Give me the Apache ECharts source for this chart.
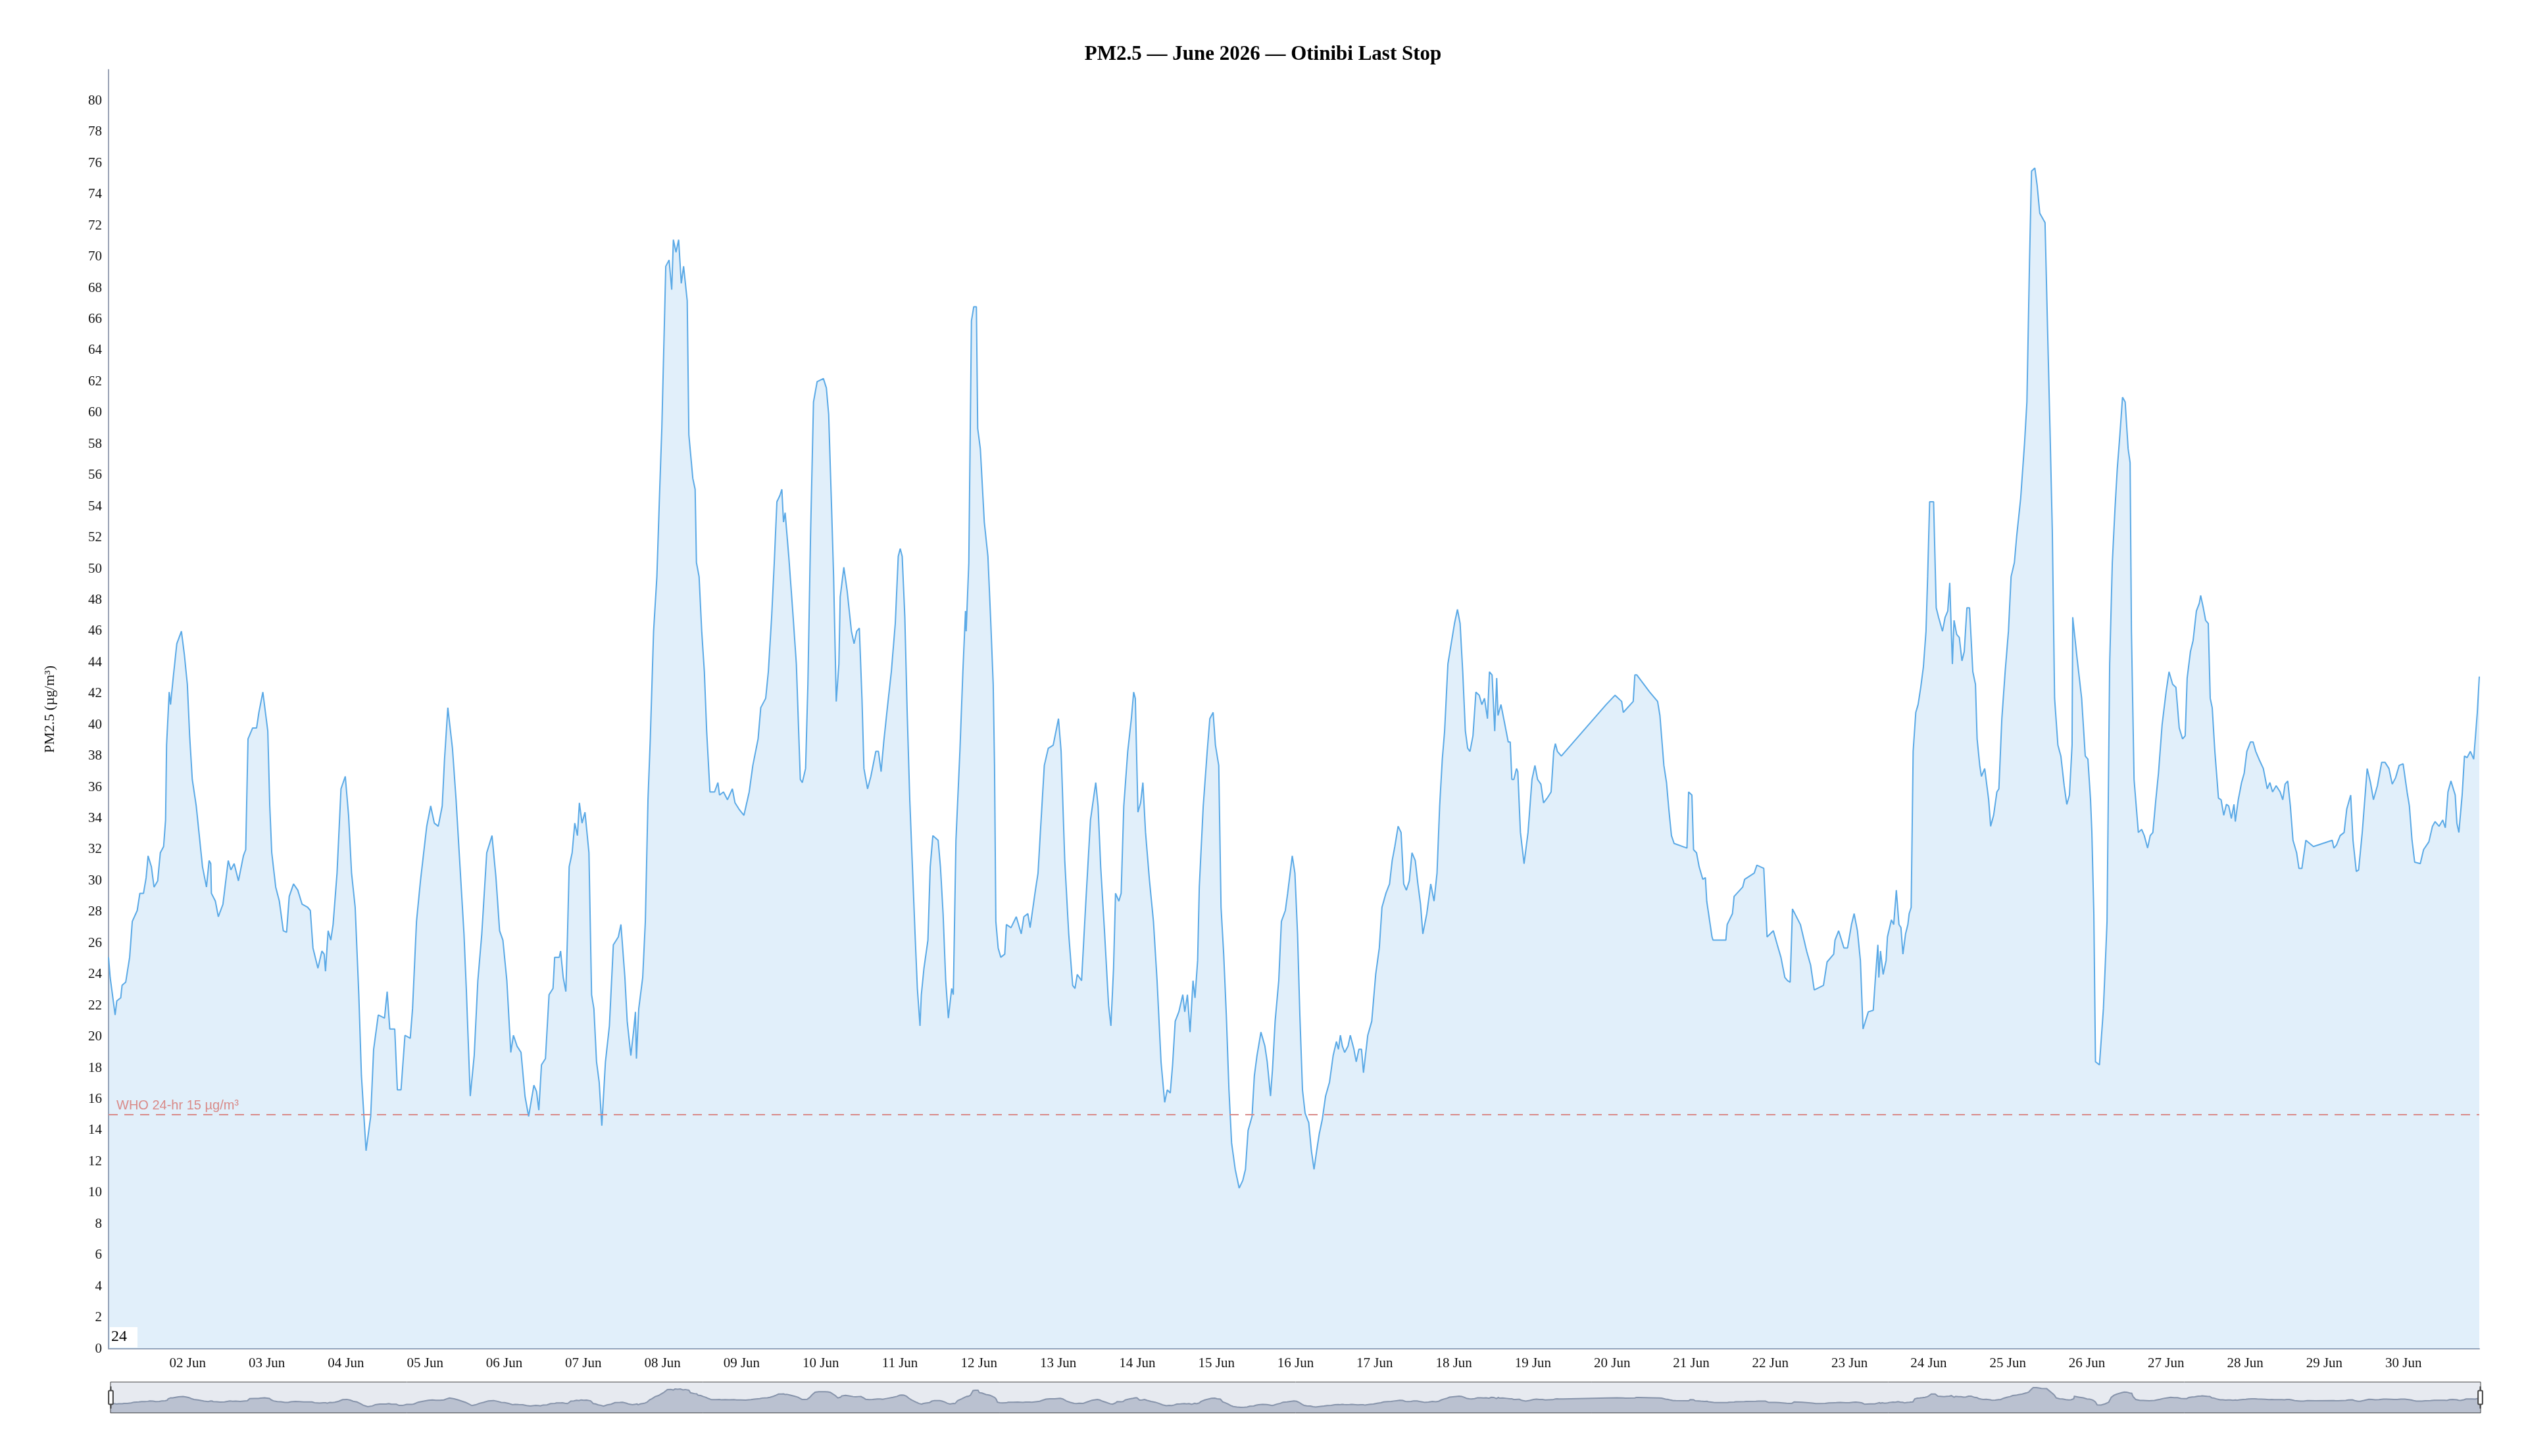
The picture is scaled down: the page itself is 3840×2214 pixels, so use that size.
<!DOCTYPE html>
<html>
<head>
<meta charset="utf-8">
<title>PM2.5 — June 2026 — Otinibi Last Stop</title>
<script src="https://cdn.jsdelivr.net/npm/echarts@6/dist/echarts.min.js"></script>
<style>
  html, body { margin: 0; padding: 0; background: #fff; }
  #chart { width: 3840px; height: 2214px; }
</style>
</head>
<body>
<div id="chart"></div>
<script>
// hourly readings, June 2026 (hour offset from 01 Jun 00:00, µg/m³)
var chartTitle = 'PM2.5 — June 2026 — Otinibi Last Stop';
var yAxisName = 'PM2.5 (µg/m³)';
var whoLimit = 15;
var whoLabel = 'WHO 24-hr 15 µg/m³';
var monthNames = ['Jan', 'Feb', 'Mar', 'Apr', 'May', 'Jun', 'Jul', 'Aug', 'Sep', 'Oct', 'Nov', 'Dec'];

var week1 = [
  [0,25.1],[0.5,23.8],[2,21.4],[2.5,22.3],[3.7,22.5],[4.1,23.3],[5.2,23.5],[6.4,25.1],[7.2,27.4],[8.7,28.1],
  [9.5,29.2],[10.6,29.2],[11.4,30.2],[12,31.6],[13,30.9],[13.8,29.6],[14.9,30.0],[15.7,31.8],[16.7,32.2],[17.3,33.9],
  [17.6,38.7],[18.4,42.1],[18.8,41.3],[19.6,43.0],[20.7,45.2],[22.1,46.0],[23,44.5],[23.9,42.6],[24.6,39.3],[25.4,36.5],
  [26.6,34.8],[28.5,30.9],[29.7,29.6],[30.5,31.3],[31,31.1],[31.2,29.2],[32.4,28.7],[33.3,27.7],[34.7,28.5],[36.3,31.3],
  [37.1,30.7],[38.1,31.1],[39.4,30.0],[40.9,31.6],[41.6,32.0],[42.3,39.1],[43.7,39.8],[44.9,39.8],[45.6,40.8],[46.8,42.1],
  [48.3,39.6],[48.9,34.8],[49.5,31.8],[50.7,29.6],[51.8,28.7],[53,26.8],[54,26.7],[54.8,29.0],[56.1,29.8],[57.4,29.4],
  [58.7,28.5],[60.4,28.3],[61.2,28.1],[62,25.7],[63.5,24.4],[64.7,25.5],[65.4,25.3],[65.8,24.2],[66.6,26.8],[67.4,26.2],
  [68.1,27.2],[69.3,30.5],[70.5,35.9],[71.8,36.7],[72.8,34.2],[73.7,30.5],[74.8,28.3],[75.9,22.7],[76.7,17.5],[78.1,12.7],
  [79.5,14.9],[80.4,19.2],[81.8,21.4],[83.7,21.2],[84.5,22.9],[85.3,20.5],[86.8,20.5],[87.6,16.6],[88.7,16.6],[89.9,20.1],
  [91.5,19.9],[92.2,21.8],[93.4,27.4],[94.6,30.0],[96.5,33.5],[97.7,34.8],[98.8,33.7],[100,33.5],[101.2,34.8],[101.9,37.8],
  [102.9,41.1],[104.3,38.5],[105.4,35.2],[106.6,30.9],[107.8,26.6],[108.5,23.1],[109.7,16.2],[110.9,18.8],[112,23.6],[113.2,26.6],
  [114.7,31.8],[116.3,32.9],[117.5,30.2],[118.6,26.8],[119.6,26.2],[120.8,23.6],[122,19.0],[122.8,20.1],[123.9,19.4],[125.1,19.0],
  [126.3,16.2],[127.4,14.9],[129,16.9],[129.8,16.5],[130.5,15.3],[131.3,18.2],[132.5,18.6],[133.6,22.7],[134.8,23.1],[135.3,25.1],
  [136.7,25.1],[137.1,25.5],[137.9,23.8],[138.7,22.9],[139.2,26.6],[139.7,30.9],[140.6,31.8],[141.4,33.7],[142.2,32.9],[142.8,35.0],
  [143.6,33.7],[144.5,34.4],[145.7,31.8],[146.5,22.7],[147.2,21.8],[148,18.4],[148.8,17.1],[149.6,14.3],[150.7,18.4],[151.9,20.7],
  [153.1,25.9],[154.6,26.4],[155.4,27.2],[156.6,23.8],[157.3,21.0],[158.4,18.8],[159.3,20.5],[159.8,21.6],[160.1,18.6],[160.8,21.8],
  [162,23.8],[162.8,27.4],[163.6,35.2],[164.3,39.1],[165.3,46.0],[166.3,49.5],[167.1,54.7]
];

var week2 = [
  [167.8,59.0],[169,69.4],[170,69.8],[170.8,67.9],[171.3,71.1],[172.1,70.3],[172.9,71.1],[173.7,68.3],[174.4,69.4],[175.5,67.2],
  [176,58.6],[177.2,55.8],[177.9,55.1],[178.3,50.4],[179.1,49.5],[179.9,46.0],[180.7,43.4],[181.4,39.6],[182.4,35.7],[183.8,35.7],
  [184.8,36.3],[185.3,35.5],[186.5,35.7],[187.7,35.2],[189.2,35.9],[190,35.0],[191.2,34.6],[192.7,34.2],[194.3,35.7],[195.4,37.4],
  [197,39.1],[197.8,41.1],[199.3,41.7],[200.1,43.4],[201.1,46.9],[201.9,50.4],[202.7,54.3],[203.6,54.7],[204.2,55.1],[204.7,53.0],
  [205.2,53.6],[206.3,50.8],[207.5,47.3],[208.6,43.9],[209.8,36.5],[210.4,36.3],[211.4,37.2],[212.1,42.6],[212.9,52.1],[213.8,60.7],
  [214.9,62.0],[216.8,62.2],[217.7,61.6],[218.4,59.9],[219.3,53.8],[219.9,49.5],[220.7,41.5],[221.5,43.9],[221.9,48.2],[223,50.1],
  [224,48.6],[225.3,46.0],[226.1,45.2],[226.9,46.0],[227.7,46.2],[228.5,41.7],[229.1,37.2],[230.2,35.9],[231.2,36.7],[232.7,38.3],
  [233.5,38.3],[234.3,37.0],[235.1,38.9],[236.2,41.1],[237.4,43.4],[238.6,46.5],[239.5,50.8],[240.1,51.3],[240.7,50.8],[241.5,46.9],
  [242.2,40.9],[243,35.2],[243.8,30.9],[244.6,26.6],[245.3,23.1],[246.1,20.7],[246.5,22.7],[247.3,24.4],[248.5,26.2],[249.2,30.9],
  [250,32.9],[251.6,32.6],[252.3,30.9],[253.1,27.9],[253.9,23.6],[254.7,21.2],[255.7,23.1],[256.2,22.7],[257,32.6],[258.2,38.3],
  [259.1,43.4],[259.9,47.3],[260.1,46.0],[260.9,50.4],[261.7,65.9],[262.4,66.8],[263.2,66.8],[263.6,59.0],[264.4,57.7],[265.6,53.0],
  [266.7,50.8],[267.5,46.9],[268.3,42.6],[268.7,37.4],[269.1,27.4],[269.8,25.7],[270.6,25.1],[271.8,25.3],[272.3,27.2],[273.7,27.0],
  [275.3,27.7],[276.8,26.6],[277.6,27.7],[278.8,27.9],[279.5,27.0],[281.1,29.4],[281.9,30.5],[282.6,33.1],[283.8,37.4],[285,38.5],
  [286.5,38.7],[288.1,40.4],[288.9,38.3],[290,31.3],[291.2,26.6],[292.4,23.3],[293.1,23.1],[293.8,24.0],[295.1,23.6],[296.3,28.3],
  [297.8,33.9],[299.4,36.3],[300.1,34.8],[300.9,30.9],[302.1,26.6],[303.3,22.0],[304,20.7],[304.8,24.4],[305.4,29.2],[306.4,28.7],
  [307.1,29.2],[307.9,34.8],[309.1,38.3],[310.2,40.4],[310.9,42.1],[311.4,41.7],[312.2,34.4],[313,35.0],[313.7,36.3],[314.5,33.1],
  [315.7,30.0],[316.9,27.4],[318,23.6],[319.2,18.4],[320.3,15.8],[321.1,16.6],[322,16.4],[322.7,18.2],[323.5,21.0],[324.6,21.6],
  [325.8,22.7],[326.4,21.6],[327.2,22.7],[328,20.3],[328.9,23.6],[329.5,22.5],[330.3,24.9],[330.8,29.6],[332,34.8],[333.2,38.3],
  [334,40.4],[335,40.8],[335.7,38.7]
];

var week3 = [
  [336.7,37.4],[337.4,28.3],[338.2,25.3],[339,21.4],[339.8,16.6],[340.6,13.2],[341.7,11.5],[342.9,10.3],[344,10.8],[344.8,11.5],
  [345.6,14.0],[346.8,14.9],[347.5,17.5],[348.3,18.8],[349.5,20.3],[350.7,19.4],[351.4,18.4],[352.4,16.2],[353,17.9],[353.8,21.0],
  [354.9,23.6],[355.7,27.4],[356.9,28.1],[357.6,29.2],[359,31.6],[359.8,30.5],[360.6,26.6],[361.3,21.4],[362.1,16.6],[362.9,15.1],
  [364,14.5],[364.8,12.7],[365.6,11.5],[366.4,12.7],[367.2,13.8],[368.1,14.7],[369.1,16.2],[370.3,17.1],[371.4,18.8],[372.4,19.7],
  [373,19.2],[373.6,20.1],[374.2,19.4],[374.9,19.0],[375.9,19.4],[376.6,20.1],[377.7,19.2],[378.4,18.4],[379.2,19.2],[380,19.2],
  [380.6,17.7],[381.9,20.1],[383.1,21.0],[384.3,24.0],[385.4,25.7],[386.2,28.3],[387.4,29.2],[388.5,29.8],[389.3,31.3],[390.1,32.2],
  [391.1,33.5],[392,33.1],[392.8,29.8],[393.6,29.4],[394.5,30.0],[395.3,31.8],[396.3,31.3],[397.1,29.8],[397.9,28.5],[398.6,26.6],
  [399.8,27.9],[401,29.8],[402,28.7],[402.9,30.5],[403.7,34.8],[404.5,37.8],[405.2,39.6],[406.2,43.9],[407.2,45.2],[408.2,46.5],
  [409.1,47.4],[409.9,46.5],[410.7,43.4],[411.5,39.6],[412.2,38.5],[412.9,38.3],[413.8,39.3],[414.7,42.1],[415.7,41.9],[416.5,41.3],
  [417.3,41.7],[418.2,40.4],[418.8,43.4],[419.6,43.2],[420.4,39.6],[421,43.0],[421.4,40.6],[422.3,41.3],[423.5,40.0],[424.5,38.9],
  [425.1,38.9],[425.6,36.5],[426.2,36.5],[427,37.2],[427.4,37.0],[428.2,33.1],[429.3,31.1],[430.5,33.1],[431.7,36.5],[432.6,37.4],
  [433.4,36.5],[434.4,36.2],[435.2,35.0],[436.3,35.3],[437.5,35.7],[438.3,38.3],[438.8,38.8],[439.4,38.3],[440.6,38.0],[454.2,41.3],
  [456.9,41.9],[458.9,41.5],[459.4,40.8],[462.4,41.5],[462.9,43.2],[463.5,43.2],[467.4,42.1],[469.8,41.5],[470.5,40.6],[471.7,37.4],
  [472.5,36.3],[473.2,34.6],[474,32.9],[474.8,32.4],[478.7,32.1],[479.2,35.7],[480.2,35.5],[480.7,32.0],[481.6,31.8],[482.4,30.9],
  [483.5,30.1],[484.3,30.2],[484.7,28.7],[486.3,26.4],[486.6,26.2],[490.5,26.2],[490.9,27.2],[492.5,27.9],[493,29.0],[495.6,29.6],
  [496.2,30.1],[499.1,30.5],[499.9,31.0],[502,30.8],[503,26.4]
];

var week4 = [
  [504.9,26.8],[506.1,25.9],[507.2,25.1],[508.4,23.8],[509.2,23.6],[510,23.5],[510.7,28.2],[513.1,27.2],[515,25.5],[516.2,24.6],
  [517.3,23.0],[520.1,23.3],[521.2,24.8],[523.2,25.3],[523.6,26.2],[524.7,26.8],[526.3,25.7],[527.4,25.7],[528.6,27.2],[529.4,27.9],
  [530.4,26.8],[531.3,24.9],[532.1,20.5],[533.7,21.6],[535.2,21.7],[535.8,23.6],[536.6,25.9],[536.9,23.8],[537.4,25.5],[538.2,24.0],
  [539.1,24.9],[539.5,26.4],[540.7,27.5],[541.4,27.2],[542.2,29.4],[543,27.2],[543.6,27.0],[544.2,25.3],[545,26.6],[545.7,27.2],
  [546.1,27.9],[546.7,28.3],[547.3,38.3],[548.1,40.8],[548.8,41.3],[549.6,42.4],[550.4,43.7],[551.2,46.0],[551.7,49.5],[552.3,54.3],
  [553.5,54.3],[554.3,47.5],[555,46.9],[556.2,46.0],[557,46.9],[557.8,47.3],[558.4,49.1],[559.2,43.9],[559.7,46.7],[560.5,45.8],
  [561.3,45.6],[562.1,44.1],[562.8,44.7],[563.6,47.5],[564.4,47.5],[565.4,43.4],[566.2,42.6],[566.7,39.1],[567.5,37.4],[568,36.7],
  [569,37.2],[570.2,35.2],[570.8,33.5],[571.7,34.2],[572.7,35.7],[573.3,35.9],[574.2,40.4],[575.2,43.4],[576.2,46.0],[577,49.5],
  [578,50.4],[578.7,52.1],[579.9,54.5],[581.1,58.1],[581.8,60.7],[582.6,69.8],[583.2,75.5],[584.2,75.7],[584.9,74.6],[585.7,72.8],
  [587.3,72.2],[588.1,65.1],[588.8,59.0],[589.5,52.5],[590.2,41.7],[591.2,38.7],[592.1,38.0],[593.1,36.1],[593.9,34.9],[594.7,35.5],
  [595.5,38.7],[595.7,46.9],[597,44.3],[598.4,41.7],[599.5,38.0],[600.3,37.8],[601.1,35.2],[601.5,33.1],[602.1,27.9],[602.6,18.4],
  [603.8,18.2],[605,21.8],[605.7,25.3],[606.1,27.4],[606.9,43.9],[607.7,50.4],[608.5,53.8],[609.2,56.4],[610,58.6],[610.8,61.0],
  [611.6,60.7],[612.5,57.7],[613.1,56.8],[613.5,46.0],[614.3,36.5],[615.6,33.1],[616.6,33.3],[617.4,32.9],[618.4,32.1],[619.2,32.9],
  [620,33.1],[620.9,35.2],[621.7,36.9],[622.8,40.0],[624,42.1],[624.9,43.4],[626,42.6],[627,42.4],[628,39.8],[629,39.1],
  [629.8,39.3],[630.4,43.0],[631.4,44.7],[632.2,45.4],[633.2,47.3],[634.1,47.8],[634.5,48.3],[635.3,47.5],[636,46.7],[636.8,46.5],
  [637.4,41.7],[638,41.1],[638.8,38.3],[639.9,35.3],[640.7,35.2],[641.5,34.2],[642.3,34.9],[643,34.8],[643.8,34.0],[644.6,34.9],
  [645,33.8],[645.9,35.2],[646.9,36.3],[647.7,36.9],[648.5,38.3],[649.6,38.9],[650.4,38.9],[651.2,38.3],[652.4,37.7],[653.5,37.2],
  [654.7,35.9],[655.5,36.3],[656.3,35.7],[657.4,36.1],[658.6,35.7],[659.4,35.2],[660.1,36.2],[660.9,36.4],[661.7,34.8],[662.5,32.6],
  [663.6,31.8],[664.3,30.8],[665.2,30.8],[666.4,32.6],[668.7,32.2],[674.4,32.6],[674.9,32.1],[675.7,32.3],[676.8,32.9],[678,33.1],
  [678.8,34.6],[680,35.5],[680.7,32.6],[681.7,30.6],[682.4,30.7],[683.5,33.1],[685,37.2],[686,36.3],[686.9,35.2],[688.1,36.1],
  [689.4,37.6],[690.4,37.6],[691.6,37.2],[692.6,36.2],[693.6,36.6],[694.7,37.4],[695.9,37.5],[697.1,35.7],[697.8,34.8],[698.6,32.6],
  [699.4,31.2],[701.1,31.1],[702.1,32.0],[703.7,32.5],[704.8,33.5],[705.6,33.8],[706.8,33.5],[707.9,33.9],[708.7,33.4],[709.5,35.7],
  [710.4,36.4],[711.7,35.5],[712.2,33.7],[712.8,33.1],[713.8,35.5],[714.5,38.0],[715.3,37.9],[716.3,38.3],[717.3,37.8],[718.4,40.8],
  [719,43.1]
];

var startTime = new Date(2026, 5, 1, 0, 0, 0).getTime();
var HOUR = 3600 * 1000;
var DAY = 24 * HOUR;

var seriesData = week1.concat(week2, week3, week4).map(function (p) {
  return [startTime + Math.round(p[0] * HOUR), p[1]];
});

var serif = '"Liberation Serif", "DejaVu Serif", serif';

function dayLabel(value) {
  // the first day sits on the axis origin and carries no label
  if (value <= startTime) return '';
  var d = new Date(value);
  var dd = d.getDate() < 10 ? '0' + d.getDate() : '' + d.getDate();
  return dd + ' ' + monthNames[d.getMonth()];
}

var chart = echarts.init(document.getElementById('chart'), null, { renderer: 'canvas' });
chart.setOption({
  animation: false,
  backgroundColor: '#ffffff',
  textStyle: { fontFamily: serif },
  title: {
    text: chartTitle,
    left: 'center',
    top: 62,
    textStyle: { fontFamily: serif, fontSize: 31, fontWeight: 'bold', color: '#000' }
  },
  grid: { left: 165, right: 71, top: 106, bottom: 163 },
  xAxis: {
    type: 'time',
    min: startTime,
    max: 'dataMax',
    minInterval: DAY,
    maxInterval: DAY,
    axisLine: { lineStyle: { color: '#9aa3b5', width: 2 } },
    axisTick: { show: false },
    splitLine: { show: false },
    axisLabel: {
      formatter: dayLabel,
      showMaxLabel: false,
      color: '#111',
      fontFamily: serif,
      fontSize: 21,
      margin: 12,
      hideOverlap: false
    }
  },
  yAxis: {
    type: 'value',
    min: 0,
    max: 82,
    interval: 2,
    name: yAxisName,
    nameLocation: 'middle',
    nameGap: 78,
    nameRotate: 90,
    nameTextStyle: { fontFamily: serif, fontSize: 22, color: '#111' },
    axisLine: { show: true, lineStyle: { color: '#9aa3b5', width: 2 } },
    axisTick: { show: false },
    splitLine: { show: false },
    axisLabel: {
      showMaxLabel: false,
      color: '#111',
      fontFamily: serif,
      fontSize: 21,
      margin: 10
    }
  },
  dataZoom: [{
    type: 'slider',
    xAxisIndex: 0,
    start: 0,
    end: 100,
    left: 165,
    right: 71,
    top: 2101,
    height: 48,
    showDetail: false,
    brushSelect: false,
    borderColor: '#444',
    backgroundColor: 'rgba(0,0,0,0)',
    fillerColor: 'rgba(160,172,194,0.25)',
    dataBackground: {
      lineStyle: { color: '#7f8ca3', width: 2 },
      areaStyle: { color: '#b4bccb', opacity: 0.8 }
    },
    selectedDataBackground: {
      lineStyle: { color: '#7f8ca3', width: 2 },
      areaStyle: { color: '#b4bccb', opacity: 0.8 }
    },
    handleSize: '70%',
    handleStyle: { color: '#fff', borderColor: '#444', borderWidth: 2 },
    moveHandleSize: 0
  }],
  graphic: [{
    type: 'text',
    left: 167,
    top: 2018,
    z: 100,
    style: {
      text: '24',
      font: '24px ' + serif,
      fill: '#000',
      backgroundColor: '#ffffff',
      padding: [3, 16, 4, 2]
    }
  }],
  series: [{
    name: 'PM2.5',
    type: 'line',
    data: seriesData,
    showSymbol: false,
    smooth: false,
    lineStyle: { color: '#5aa9e6', width: 2 },
    itemStyle: { color: '#5aa9e6' },
    areaStyle: { color: '#5aa9e6', opacity: 0.18 },
    markLine: {
      silent: true,
      symbol: 'none',
      lineStyle: { color: '#d98a88', type: [14, 10], width: 2 },
      label: {
        position: 'insideStartTop',
        formatter: whoLabel,
        color: '#d98a88',
        fontFamily: '"Liberation Sans", Arial, sans-serif',
        fontSize: 20,
        distance: [12, 4]
      },
      data: [{ yAxis: whoLimit }]
    }
  }]
});
</script>
</body>
</html>
